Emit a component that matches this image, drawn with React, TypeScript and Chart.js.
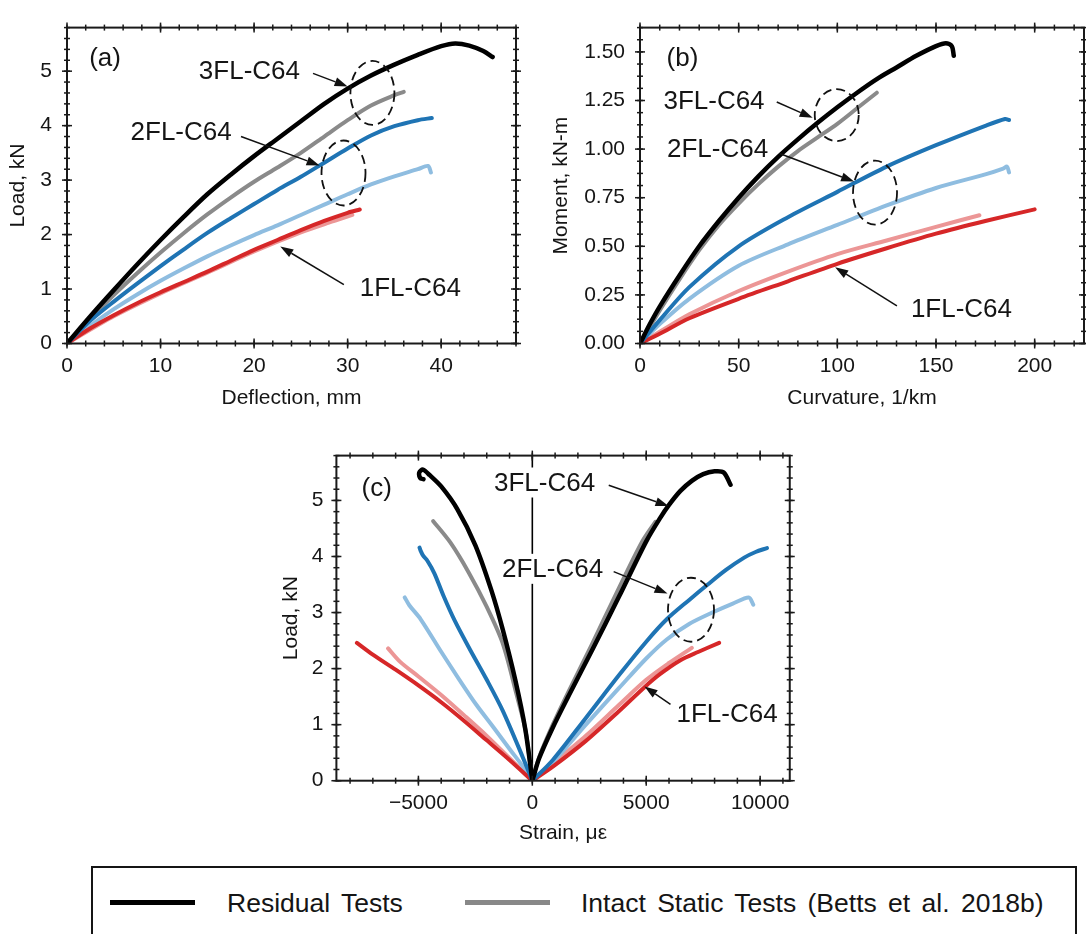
import React, { useEffect, useRef } from 'react';
import { Chart, registerables } from 'chart.js';

Chart.register(...registerables);

type P = [number, number];

// ---------------- Panel (a): Load vs Deflection ----------------
const A_RES_3FL: P[] = [[0,0],[2.5,0.5],[5,0.98],[7.5,1.45],[10,1.9],[12.5,2.33],[15,2.74],[17.5,3.1],[20,3.44],[22.5,3.76],[25,4.08],[27.5,4.4],[30,4.68],[32.5,4.92],[35,5.12],[37.5,5.3],[40,5.46],[41.5,5.51],[43,5.47],[44.5,5.37],[45.5,5.26]];
const A_INT_3FL: P[] = [[0,0],[2.5,0.46],[5,0.89],[7.5,1.29],[10,1.67],[12.5,2.03],[15,2.37],[17.5,2.68],[20,2.97],[22.5,3.23],[25,3.5],[27.5,3.8],[30,4.1],[32.5,4.37],[35,4.56],[36,4.62]];
const A_RES_2FL: P[] = [[0,0],[2.5,0.42],[5,0.77],[7.5,1.1],[10,1.42],[12.5,1.73],[15,2.03],[17.5,2.3],[20,2.56],[22.5,2.82],[25,3.06],[27.5,3.32],[30,3.58],[32.5,3.82],[35,3.99],[37.5,4.1],[39,4.14]];
const A_INT_2FL: P[] = [[0,0],[2.5,0.33],[5,0.63],[7.5,0.9],[10,1.15],[12.5,1.38],[15,1.6],[17.5,1.8],[20,1.99],[22.5,2.17],[25,2.36],[27.5,2.55],[30,2.74],[32.5,2.92],[35,3.07],[37.5,3.2],[38.6,3.26],[38.9,3.14]];
const A_RES_1FL: P[] = [[0,0],[2.5,0.28],[5,0.52],[7.5,0.74],[10,0.94],[12.5,1.13],[15,1.32],[17.5,1.52],[20,1.72],[22.5,1.9],[25,2.08],[27.5,2.25],[30,2.4],[31.3,2.46]];
const A_INT_1FL: P[] = [[0,0],[5,0.5],[10,0.92],[15,1.3],[20,1.69],[25,2.04],[28,2.22],[30.5,2.36]];
const A_X_TICKS = [0, 10, 20, 30, 40];
const A_Y_TICKS = [0, 1, 2, 3, 4, 5];

// ---------------- Panel (b): Moment vs Curvature ----------------
const B_RES_3FL: P[] = [[0,0],[5,0.1],[10,0.19],[20,0.35],[30,0.5],[40,0.63],[50,0.75],[60,0.86],[70,0.96],[80,1.05],[90,1.135],[100,1.215],[110,1.29],[120,1.36],[130,1.42],[140,1.48],[150,1.53],[155,1.545],[158,1.53],[159,1.48]];
const B_INT_3FL: P[] = [[0,0],[10,0.17],[20,0.33],[30,0.48],[40,0.61],[50,0.72],[60,0.82],[70,0.91],[80,0.99],[90,1.06],[100,1.13],[110,1.21],[120,1.29]];
const B_RES_2FL: P[] = [[0,0],[10,0.12],[25,0.29],[50,0.5],[75,0.65],[100,0.78],[125,0.91],[150,1.02],[175,1.12],[185,1.155],[187,1.15]];
const B_INT_2FL: P[] = [[0,0],[10,0.1],[25,0.23],[50,0.4],[75,0.51],[100,0.61],[125,0.71],[150,0.8],[175,0.87],[184,0.9],[186,0.91],[187,0.88]];
const B_RES_1FL: P[] = [[0,0],[10,0.05],[25,0.13],[50,0.23],[75,0.32],[100,0.41],[125,0.49],[150,0.565],[175,0.63],[200,0.69]];
const B_INT_1FL: P[] = [[0,0],[10,0.06],[25,0.15],[50,0.27],[75,0.37],[100,0.46],[125,0.53],[150,0.6],[172,0.66]];
const B_X_TICKS = [0, 50, 100, 150, 200];
const B_Y_TICKS = [0, 0.25, 0.5, 0.75, 1.0, 1.25, 1.5];

// ---------------- Panel (c): Load vs Strain ----------------
const C_RES_3FL_NEG: P[] = [[0,0],[-300,0.9],[-750,1.8],[-1300,2.7],[-1800,3.4],[-2500,4.2],[-3300,4.85],[-4000,5.25],[-4500,5.45],[-4800,5.55],[-4960,5.5],[-4920,5.4],[-4780,5.38]];
const C_RES_3FL_POS: P[] = [[0,0],[300,0.4],[900,0.95],[1600,1.52],[2650,2.35],[3800,3.28],[5000,4.27],[5600,4.68],[6000,4.92],[6500,5.17],[7000,5.35],[7500,5.47],[8000,5.52],[8400,5.5],[8700,5.28]];
const C_INT_3FL_NEG: P[] = [[0,0],[-300,0.9],[-700,1.55],[-1300,2.45],[-2000,3.1],[-2800,3.72],[-3600,4.25],[-4350,4.63]];
const C_INT_3FL_POS: P[] = [[0,0],[300,0.42],[900,1.0],[1600,1.6],[2600,2.42],[3700,3.35],[4800,4.25],[5400,4.62]];
const C_RES_2FL_NEG: P[] = [[0,0],[-420,0.42],[-1300,1.25],[-2000,1.8],[-2750,2.35],[-3400,2.85],[-3900,3.3],[-4300,3.7],[-4600,3.92],[-4800,4.02],[-4900,4.1],[-4950,4.16]];
const C_RES_2FL_POS: P[] = [[0,0],[900,0.37],[2350,1.12],[3800,1.88],[5000,2.48],[5900,2.88],[6900,3.23],[7700,3.5],[8500,3.76],[9300,3.98],[9800,4.08],[10300,4.15]];
const C_INT_2FL_NEG: P[] = [[0,0],[-500,0.3],[-950,0.54],[-1700,0.95],[-2450,1.35],[-3200,1.8],[-4000,2.3],[-4900,2.88],[-5400,3.13],[-5600,3.27]];
const C_INT_2FL_POS: P[] = [[0,0],[900,0.33],[2350,1.0],[3800,1.65],[5000,2.18],[5900,2.52],[6900,2.8],[7900,3.0],[8800,3.16],[9500,3.27],[9700,3.14]];
const C_RES_1FL_NEG: P[] = [[0,0],[-1000,0.37],[-2000,0.72],[-3000,1.07],[-4000,1.4],[-5000,1.7],[-6000,1.98],[-7000,2.25],[-7700,2.46]];
const C_RES_1FL_POS: P[] = [[0,0],[900,0.25],[2350,0.71],[3800,1.24],[4900,1.66],[5600,1.9],[6500,2.15],[7300,2.3],[8200,2.46]];
const C_INT_1FL_NEG: P[] = [[0,0],[-1000,0.4],[-2000,0.8],[-3000,1.17],[-4000,1.53],[-5000,1.86],[-5800,2.12],[-6330,2.36]];
const C_INT_1FL_POS: P[] = [[0,0],[900,0.3],[2350,0.8],[3800,1.35],[5000,1.8],[6000,2.1],[7000,2.37]];
const C_X_TICKS = [-5000, 0, 5000, 10000];
const C_Y_TICKS = [0, 1, 2, 3, 4, 5];

// ---------------- Styling ----------------
const FONT = "'Liberation Sans', Arial, Helvetica, sans-serif";
const TEXT = '#151515';
const AXIS_SIZE = 21;
const COL = {
  res3: '#000000',
  int3: '#8a8a8a',
  res2: '#1f74b4',
  int2: '#8fbde0',
  res1: '#d62728',
  int1: '#ec9696',
};

Chart.defaults.font.family = FONT;

const fmtInt = (v: number) => (v < 0 ? '\u2212' + Math.abs(v) : String(v));
const fmt2 = (v: number) => Number(v).toFixed(2);

function line(points: P[], color: string, width = 4) {
  return {
    data: points.map(([x, y]) => ({ x, y })),
    borderColor: color,
    backgroundColor: color,
    borderWidth: width,
    showLine: true,
    pointRadius: 0,
    pointHoverRadius: 0,
    tension: 0.3,
    fill: false,
    borderCapStyle: 'round',
    borderJoinStyle: 'round',
  };
}

const framePlugin = {
  id: 'frame',
  beforeDatasetsDraw(chart: any, _a: any, opts: any) {
    if (!opts || !opts.zeroLine) return;
    const { ctx, chartArea: ca, scales } = chart;
    const px = scales.x.getPixelForValue(0);
    ctx.save();
    ctx.strokeStyle = '#000';
    ctx.lineWidth = 1.6;
    ctx.beginPath();
    ctx.moveTo(px, ca.top);
    ctx.lineTo(px, ca.bottom);
    ctx.stroke();
    ctx.restore();
  },
  afterDatasetsDraw(chart: any, _a: any, opts: any) {
    if (!opts) return;
    const { ctx, chartArea: ca, scales } = chart;
    const xs = scales.x;
    const ys = scales.y;
    const X = (v: number) => xs.getPixelForValue(v);
    const Y = (v: number) => ys.getPixelForValue(v);
    ctx.save();

    // dashed ellipses
    ctx.strokeStyle = '#111';
    ctx.lineWidth = 1.8;
    ctx.setLineDash([9, 5]);
    for (const e of opts.ellipses || []) {
      ctx.beginPath();
      ctx.ellipse(X(e.x), Y(e.y), e.rx, e.ry, 0, 0, Math.PI * 2);
      ctx.stroke();
    }
    ctx.setLineDash([]);

    // texts (with optional white box)
    ctx.font = `26px ${FONT}`;
    ctx.textAlign = 'center';
    ctx.textBaseline = 'middle';
    for (const t of opts.texts || []) {
      const px = X(t.x), py = Y(t.y);
      if (t.bg) {
        const w = ctx.measureText(t.text).width + 6;
        ctx.fillStyle = '#fff';
        ctx.fillRect(px - w / 2, py - 15, w, 30);
      }
      ctx.fillStyle = TEXT;
      ctx.fillText(t.text, px, py + 1);
    }

    // arrows
    ctx.strokeStyle = '#111';
    ctx.fillStyle = '#111';
    for (const a of opts.arrows || []) {
      const x0 = X(a.from[0]), y0 = Y(a.from[1]);
      const x1 = X(a.to[0]), y1 = Y(a.to[1]);
      const ang = Math.atan2(y1 - y0, x1 - x0);
      const hl = 13, hw = 4.5;
      const bx = x1 - hl * Math.cos(ang), by = y1 - hl * Math.sin(ang);
      ctx.lineWidth = 1.5;
      ctx.beginPath();
      ctx.moveTo(x0, y0);
      ctx.lineTo(bx, by);
      ctx.stroke();
      ctx.beginPath();
      ctx.moveTo(x1, y1);
      ctx.lineTo(bx + hw * Math.sin(ang), by - hw * Math.cos(ang));
      ctx.lineTo(bx - hw * Math.sin(ang), by + hw * Math.cos(ang));
      ctx.closePath();
      ctx.fill();
    }

    // frame
    ctx.strokeStyle = '#1a1a1a';
    ctx.lineWidth = 2;
    ctx.strokeRect(ca.left, ca.top, ca.right - ca.left, ca.bottom - ca.top);

    // ticks on all four sides, straddling the frame
    ctx.lineWidth = 1.5;
    const seg = (ax: number, ay: number, bx: number, by: number) => {
      ctx.beginPath();
      ctx.moveTo(ax, ay);
      ctx.lineTo(bx, by);
      ctx.stroke();
    };
    const xTick = (v: number, out: number, inn: number) => {
      const p = X(v);
      seg(p, ca.bottom + out, p, ca.bottom - inn);
      seg(p, ca.top - out, p, ca.top + inn);
    };
    const yTick = (v: number, out: number, inn: number) => {
      const p = Y(v);
      seg(ca.left - out, p, ca.left + inn, p);
      seg(ca.right + out, p, ca.right - inn, p);
    };
    const minors = (min: number, max: number, step: number) => {
      const r: number[] = [];
      for (let i = Math.ceil(min / step - 1e-9); i * step <= max + 1e-9; i++) r.push(i * step);
      return r;
    };
    for (const v of minors(xs.min, xs.max, opts.minorX)) xTick(v, 3, 3);
    for (const v of minors(ys.min, ys.max, opts.minorY)) yTick(v, 3, 3);
    for (const v of opts.majorX || []) xTick(v, 5, 5);
    for (const v of opts.majorY || []) yTick(v, 5, 5);

    ctx.restore();
  },
};
Chart.register(framePlugin as any);

interface PanelCfg {
  width: number;
  height: number;
  datasets: any[];
  xMin: number; xMax: number; yMin: number; yMax: number;
  xTicks: number[]; yTicks: number[];
  xFmt: (v: number) => string; yFmt: (v: number) => string;
  xTitle: string; yTitle: string;
  padding: { left: number; top: number; right: number; bottom: number };
  yAxisW: number; xAxisH: number;
  xTickPad: number; yTickPad: number;
  xTitlePad: number; yTitlePad: number;
  frame: any;
}

function buildConfig(c: PanelCfg) {
  const font = { family: FONT, size: AXIS_SIZE };
  return {
    type: 'scatter',
    data: { datasets: c.datasets },
    options: {
      responsive: false,
      maintainAspectRatio: false,
      animation: false,
      events: [],
      layout: { padding: c.padding },
      plugins: {
        legend: { display: false },
        tooltip: { enabled: false },
        frame: c.frame,
      },
      scales: {
        x: {
          type: 'linear',
          min: c.xMin,
          max: c.xMax,
          afterBuildTicks: (s: any) => { s.ticks = c.xTicks.map((v) => ({ value: v })); },
          afterFit: (s: any) => { s.height = c.xAxisH; },
          grid: { display: false, drawTicks: false },
          border: { display: false },
          ticks: { font, color: TEXT, padding: c.xTickPad, maxRotation: 0, autoSkip: false, callback: (v: any) => c.xFmt(Number(v)) },
          title: { display: true, text: c.xTitle, font, color: TEXT, padding: { top: 0, bottom: c.xTitlePad } },
        },
        y: {
          type: 'linear',
          min: c.yMin,
          max: c.yMax,
          afterBuildTicks: (s: any) => { s.ticks = c.yTicks.map((v) => ({ value: v })); },
          afterFit: (s: any) => { s.width = c.yAxisW; },
          grid: { display: false, drawTicks: false },
          border: { display: false },
          ticks: { font, color: TEXT, padding: c.yTickPad, autoSkip: false, callback: (v: any) => c.yFmt(Number(v)) },
          title: { display: true, text: c.yTitle, font, color: TEXT, padding: { top: c.yTitlePad, bottom: 0 } },
        },
      },
    },
  };
}

const PANEL_A: PanelCfg = {
  width: 540, height: 420,
  datasets: [
    line(A_RES_3FL, COL.res3, 4.5), line(A_RES_2FL, COL.res2), line(A_RES_1FL, COL.res1),
    line(A_INT_3FL, COL.int3), line(A_INT_2FL, COL.int2), line(A_INT_1FL, COL.int1),
  ],
  xMin: 0, xMax: 48, yMin: 0, yMax: 5.8,
  xTicks: A_X_TICKS, yTicks: A_Y_TICKS,
  xFmt: fmtInt, yFmt: fmtInt,
  xTitle: 'Deflection, mm', yTitle: 'Load, kN',
  padding: { left: 0, top: 11, right: 24, bottom: 0 },
  yAxisW: 67, xAxisH: 76.5,
  xTickPad: 10.5, yTickPad: 15, xTitlePad: 9.5, yTitlePad: 5.5,
  frame: {
    minorX: 2, minorY: 0.2, majorX: A_X_TICKS, majorY: A_Y_TICKS,
    texts: [
      { x: 4.07, y: 5.24, text: '(a)' },
      { x: 19.5, y: 5.0, text: '3FL-C64' },
      { x: 12.2, y: 3.88, text: '2FL-C64' },
      { x: 36.7, y: 1.02, text: '1FL-C64' },
    ],
    arrows: [
      { from: [26.3, 4.96], to: [30.0, 4.72] },
      { from: [18.6, 3.8], to: [27.0, 3.27] },
      { from: [29.6, 1.08], to: [22.8, 1.78] },
    ],
    ellipses: [
      { x: 32.65, y: 4.6, rx: 22, ry: 32 },
      { x: 29.56, y: 3.13, rx: 22, ry: 32.5 },
    ],
  },
};

const PANEL_B: PanelCfg = {
  width: 546, height: 420,
  datasets: [
    line(B_RES_3FL, COL.res3, 4.5), line(B_RES_2FL, COL.res2), line(B_RES_1FL, COL.res1),
    line(B_INT_3FL, COL.int3), line(B_INT_2FL, COL.int2), line(B_INT_1FL, COL.int1),
  ],
  xMin: 0, xMax: 225, yMin: 0, yMax: 1.625,
  xTicks: B_X_TICKS, yTicks: B_Y_TICKS,
  xFmt: fmtInt, yFmt: fmt2,
  xTitle: 'Curvature, 1/km', yTitle: 'Moment, kN-m',
  padding: { left: 0, top: 11, right: 2, bottom: 0 },
  yAxisW: 100, xAxisH: 76.5,
  xTickPad: 10.5, yTickPad: 15, xTitlePad: 9.5, yTitlePad: 8.5,
  frame: {
    minorX: 10, minorY: 0.0625, majorX: B_X_TICKS, majorY: B_Y_TICKS,
    texts: [
      { x: 21.5, y: 1.47, text: '(b)' },
      { x: 37.5, y: 1.247, text: '3FL-C64' },
      { x: 39.3, y: 1.0, text: '2FL-C64' },
      { x: 162.9, y: 0.176, text: '1FL-C64' },
    ],
    arrows: [
      { from: [69.3, 1.242], to: [87.5, 1.161] },
      { from: [70.7, 0.977], to: [108.5, 0.833] },
      { from: [130.2, 0.193], to: [98.9, 0.392] },
    ],
    ellipses: [
      { x: 99.7, y: 1.175, rx: 22, ry: 26 },
      { x: 119.1, y: 0.776, rx: 22, ry: 32 },
    ],
  },
};

const PANEL_C: PanelCfg = {
  width: 540, height: 420,
  datasets: [
    line(C_RES_3FL_NEG, COL.res3, 4.5), line(C_RES_3FL_POS, COL.res3, 4.5),
    line(C_RES_2FL_NEG, COL.res2), line(C_RES_2FL_POS, COL.res2),
    line(C_RES_1FL_NEG, COL.res1), line(C_RES_1FL_POS, COL.res1),
    line(C_INT_3FL_NEG, COL.int3), line(C_INT_3FL_POS, COL.int3),
    line(C_INT_2FL_NEG, COL.int2), line(C_INT_2FL_POS, COL.int2),
    line(C_INT_1FL_NEG, COL.int1), line(C_INT_1FL_POS, COL.int1),
  ],
  xMin: -8600, xMax: 11300, yMin: 0, yMax: 5.8,
  xTicks: C_X_TICKS, yTicks: C_Y_TICKS,
  xFmt: fmtInt, yFmt: fmtInt,
  xTitle: 'Strain, \u03bc\u03b5', yTitle: 'Load, kN',
  padding: { left: 0, top: 19.3, right: 10.1, bottom: 0 },
  yAxisW: 76.4, xAxisH: 69.3,
  xTickPad: 10, yTickPad: 13, xTitlePad: 4, yTitlePad: 18.2,
  frame: {
    zeroLine: true,
    minorX: 1000, minorY: 0.2, majorX: C_X_TICKS, majorY: C_Y_TICKS,
    texts: [
      { x: -6829, y: 5.23, text: '(c)' },
      { x: 539, y: 5.32, text: '3FL-C64', bg: true },
      { x: 890, y: 3.78, text: '2FL-C64', bg: true },
      { x: 8548, y: 1.19, text: '1FL-C64' },
    ],
    arrows: [
      { from: [3355, 5.27], to: [5978, 4.9] },
      { from: [3570, 3.73], to: [5934, 3.34] },
      { from: [6066, 1.36], to: [4925, 1.68] },
    ],
    ellipses: [{ x: 6965, y: 3.05, rx: 23, ry: 32 }],
  },
};

function Panel({ cfg, left, top }: { cfg: PanelCfg; left: number; top: number }) {
  const ref = useRef<HTMLCanvasElement>(null);
  useEffect(() => {
    if (!ref.current) return;
    const chart = new Chart(ref.current, buildConfig(cfg) as any);
    return () => chart.destroy();
  }, [cfg]);
  return (
    <canvas
      ref={ref}
      width={cfg.width}
      height={cfg.height}
      style={{ position: 'absolute', left, top, width: cfg.width, height: cfg.height }}
    />
  );
}

function Legend() {
  const txt: React.CSSProperties = {
    position: 'absolute', fontFamily: FONT, fontSize: 26.5, lineHeight: '30px',
    color: TEXT, whiteSpace: 'nowrap', top: 888, wordSpacing: '4px',
  };
  return (
    <>
      <div style={{ position: 'absolute', left: 91, top: 866, width: 986, height: 120, border: '2px solid #151515', boxSizing: 'border-box' }} />
      <div style={{ position: 'absolute', left: 110, top: 899.5, width: 85, height: 5.5, background: '#000' }} />
      <div style={{ ...txt, left: 227 }}>Residual Tests</div>
      <div style={{ position: 'absolute', left: 465, top: 899.5, width: 85, height: 5.5, background: '#888' }} />
      <div style={{ ...txt, left: 581 }}>Intact Static Tests (Betts et al. 2018b)</div>
    </>
  );
}

export default function App() {
  return (
    <div style={{ position: 'fixed', left: 0, top: 0, width: 1086, height: 934, overflow: 'hidden', background: '#fff' }}>
      <Panel cfg={PANEL_A} left={0} top={0} />
      <Panel cfg={PANEL_B} left={540} top={0} />
      <Panel cfg={PANEL_C} left={260} top={430} />
      <Legend />
    </div>
  );
}
